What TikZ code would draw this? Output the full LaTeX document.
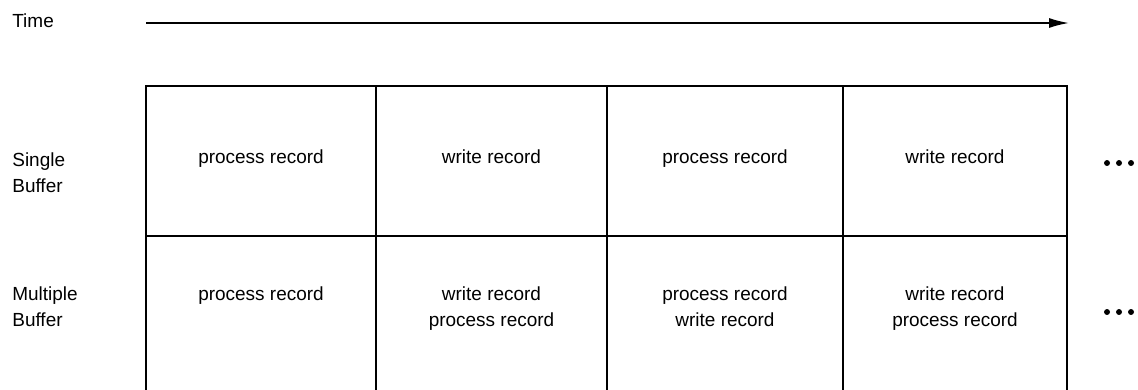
\documentclass[tikz,border=0pt]{standalone}
\usepackage{fontspec}
\setmainfont{Liberation Sans}
\usetikzlibrary{arrows.meta}

\begin{document}
\begin{tikzpicture}[x=0.02cm, y=-0.02cm, font=\fontsize{10.8}{14.8}\selectfont,
    cell/.style={draw, line width=0.9pt, inner sep=0pt},
    lbl/.style={align=left, anchor=base west, inner sep=0pt},
    txt/.style={align=center, anchor=base, inner sep=0pt}]
  \useasboundingbox (0,0) rectangle (1138,389);

  \node [lbl] (time) at (12,27) {Time};
  \coordinate (tstart) at (146,23);
  \coordinate (tend) at (1069,23);
  \draw [line width=0.9pt, -{Latex[length=0.4cm,width=0.2cm]}] (tstart) -- (tend);

  \node [lbl] (single) at (12,192) {Single\\Buffer};
  \node [lbl] (multi) at (12,326) {Multiple\\Buffer};

    \node [cell, minimum width=4.6cm, minimum height=3cm] (s1) at (261,161) {};
    \node [cell, minimum width=4.62cm, minimum height=3cm] (s2) at (491.5,161) {};
    \node [cell, minimum width=4.72cm, minimum height=3cm] (s3) at (725,161) {};
    \node [cell, minimum width=4.48cm, minimum height=3cm] (s4) at (955,161) {};

    \node [cell, minimum width=4.6cm, minimum height=3.12cm] (m1) at (261,314) {};
    \node [cell, minimum width=4.62cm, minimum height=3.12cm] (m2) at (491.5,314) {};
    \node [cell, minimum width=4.72cm, minimum height=3.12cm] (m3) at (725,314) {};
    \node [cell, minimum width=4.48cm, minimum height=3.12cm] (m4) at (955,314) {};

    \node [txt] (s1text) at (261,163) {process record};
    \node [txt] (s2text) at (491.5,163) {write record};
    \node [txt] (s3text) at (725,163) {process record};
    \node [txt] (s4text) at (955,163) {write record};

    \node [txt] (m1text) at (261,300) {process record};
    \node [txt] (m2text) at (491.5,326) {write record\\process record};
    \node [txt] (m3text) at (725,326) {process record\\write record};
    \node [txt] (m4text) at (955,326) {write record\\process record};

  \foreach \x in {1107,1119,1131} {
    \fill (\x,163) circle (1.7pt);
    \fill (\x,312) circle (1.7pt);
  }
\end{tikzpicture}
\end{document}
